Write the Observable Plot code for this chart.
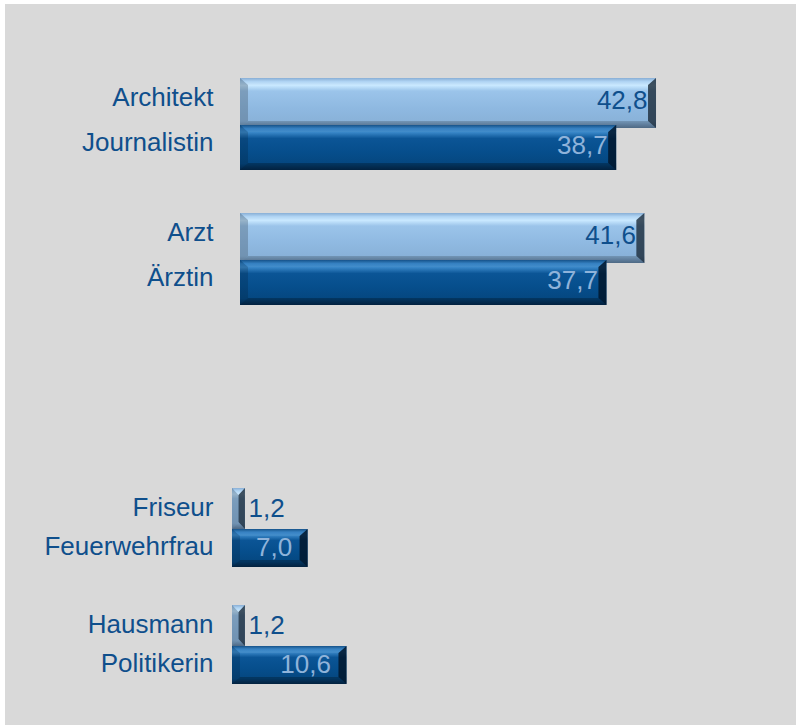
<!DOCTYPE html>
<html><head><meta charset="utf-8">
<script src="https://cdn.jsdelivr.net/npm/d3@7"></script>
<script src="https://cdn.jsdelivr.net/npm/@observablehq/plot@0.6"></script>
<style>
html,body{margin:0;padding:0;background:#fff;}
#wrap{position:relative;width:796px;height:725px;overflow:hidden;}
#bg{position:absolute;left:5px;top:4px;right:0;bottom:0;background:#d9d9d9;}
#wrap svg.chart{position:absolute;left:0;top:0;}
</style></head><body>
<div id="wrap"><div id="bg"></div></div>
<svg width="0" height="0" style="position:absolute">
  <defs>
    <linearGradient id="gradLight" x1="0" y1="0" x2="0" y2="1">
      <stop offset="0" stop-color="#7fa8d2"/>
      <stop offset="0.07" stop-color="#a9d0f2"/>
      <stop offset="0.15" stop-color="#c8e8ff"/>
      <stop offset="0.26" stop-color="#9bc4ea"/>
      <stop offset="0.6" stop-color="#8fb9e1"/>
      <stop offset="0.86" stop-color="#89b2d9"/>
      <stop offset="1" stop-color="#5d7d9e"/>
    </linearGradient>
    <linearGradient id="gradDark" x1="0" y1="0" x2="0" y2="1">
      <stop offset="0" stop-color="#0a4a84"/>
      <stop offset="0.08" stop-color="#2c7bbf"/>
      <stop offset="0.16" stop-color="#3a88c9"/>
      <stop offset="0.3" stop-color="#0b5596"/>
      <stop offset="0.6" stop-color="#064e8c"/>
      <stop offset="0.86" stop-color="#054780"/>
      <stop offset="1" stop-color="#032d55"/>
    </linearGradient>
  </defs>
</svg>
<script>
// ---- data ----
const topLabels = ["Architekt", "Journalistin", "Arzt", "Ärztin"];
const topValues = [42.8, 38.7, 41.6, 37.7];
const topKinds = ["light", "dark", "light", "dark"];
const topOrder = ["Architekt", "Journalistin", "_gap1", "Arzt", "Ärztin"];

const bottomLabels = ["Friseur", "Feuerwehrfrau", "Hausmann", "Politikerin"];
const bottomValues = [1.2, 7.0, 1.2, 10.6];
const bottomKinds = ["light", "dark", "light", "dark"];
const bottomOrder = ["Friseur", "Feuerwehrfrau", "_gap2", "Hausmann", "Politikerin"];

// ---- styles ----
const labelColor = "#0f4f8c";
const darkValueColor = "#8fb3da";
const font = "'Liberation Sans', Arial, sans-serif";
const fmt = v => v.toFixed(1).replace(".", ",");

const W = 796, H = 725;

function build(labels, values, kinds, order, o) {
  const rows = labels.map((label, i) => ({label, value: values[i], kind: kinds[i]}));
  const svg = Plot.plot({
    width: W, height: H,
    marginLeft: o.left, marginRight: o.right, marginTop: o.top, marginBottom: o.bottom,
    style: {background: "transparent", color: labelColor, fontFamily: font, overflow: "visible"},
    x: {domain: [0, 50], axis: null},
    y: {domain: order, padding: 0, axis: null, label: null},
    marks: [
      Plot.axisY({tickSize: 0, tickPadding: o.pad, fontSize: 26, dy: o.labelDy, label: null,
        tickFormat: d => d.startsWith("_") ? "" : d}),
      Plot.barX(rows, {filter: d => d.kind === "light", x: "value", y: "label",
        fill: "url(#gradLight)", insetTop: o.lightInsetTop, insetBottom: o.lightInsetBottom}),
      Plot.barX(rows, {filter: d => d.kind === "dark", x: "value", y: "label",
        fill: "url(#gradDark)", insetTop: o.darkInsetTop, insetBottom: o.darkInsetBottom}),
      Plot.text(rows, {filter: d => d.kind === "light", x: "value", y: "label",
        text: d => fmt(d.value), fill: labelColor, fontSize: 26,
        textAnchor: o.lightInside ? "end" : "start", dx: o.lightInside ? -9 : 3, dy: o.valueDy}),
      Plot.text(rows, {filter: d => d.kind === "dark", x: "value", y: "label",
        text: d => fmt(d.value), fill: darkValueColor, fontSize: 26,
        textAnchor: "end", dx: o.darkDx, dy: o.valueDy})
    ]
  });
  svg.classList.add("chart");
  document.getElementById("wrap").appendChild(svg);
  bevel(svg);
  return svg;
}

function poly(pts, fill, op) {
  const p = document.createElementNS("http://www.w3.org/2000/svg", "polygon");
  p.setAttribute("points", pts.map(q => q.join(",")).join(" "));
  p.setAttribute("fill", fill);
  p.setAttribute("fill-opacity", op);
  return p;
}

function bevel(svg) {
  svg.querySelectorAll('g[aria-label="bar"]').forEach(g => {
    const light = (g.getAttribute("fill") || "").includes("Light");
    g.querySelectorAll("rect").forEach(r => {
      const x = +r.getAttribute("x"), y = +r.getAttribute("y");
      const w = +r.getAttribute("width"), h = +r.getAttribute("height");
      const bx = Math.min(8, w / 2), by = Math.min(7, h / 2);
      const shapes = [
        poly([[x, y + h], [x + w, y + h], [x + w - bx, y + h - by], [x + bx, y + h - by]], "#000", light ? 0.16 : 0.25),
        poly([[x, y], [x + bx, y + by], [x + bx, y + h - by], [x, y + h]], light ? "#4d6478" : "#000", light ? 0.4 : 0.15),
        poly([[x + w, y], [x + w - bx, y + by], [x + w - bx, y + h - by], [x + w, y + h]], light ? "#1b2a38" : "#01162b", light ? 0.8 : 0.85),
        poly([[x, y], [x + w, y], [x + w - bx, y + by], [x + bx, y + by]], "#fff", light ? 0.08 : 0.05)
      ];
      let last = r;
      shapes.forEach(s => { last.after(s); last = s; });
    });
  });
}

build(topLabels, topValues, topKinds, topOrder, {
  left: 240, right: W - 726, top: 79.5, bottom: H - 306, pad: 27, labelDy: -5, valueDy: -2,
  lightInsetTop: -2, lightInsetBottom: -3, darkInsetTop: 0, darkInsetBottom: 0,
  lightInside: true, darkDx: -9
});
build(bottomLabels, bottomValues, bottomKinds, bottomOrder, {
  left: 232, right: W - 772, top: 486.3, bottom: H - 686.3, pad: 19, labelDy: -1.5, valueDy: 0,
  lightInsetTop: -1, lightInsetBottom: -1, darkInsetTop: 1, darkInsetBottom: 0,
  lightInside: false, darkDx: -16
});
</script>
</body></html>
